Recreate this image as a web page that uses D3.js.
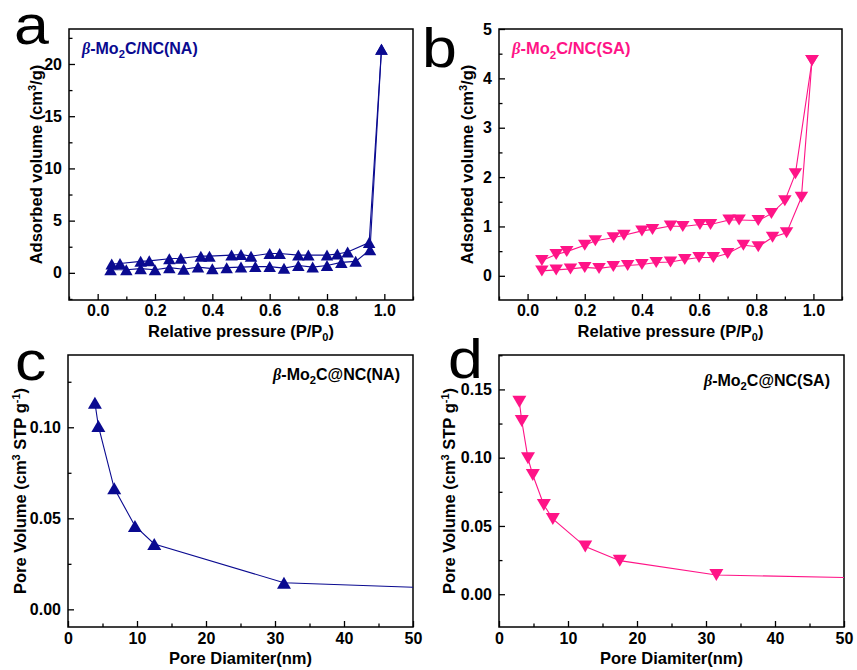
<!DOCTYPE html>
<html>
<head>
<meta charset="utf-8">
<script src="https://cdn.jsdelivr.net/npm/d3@7"></script>
<style>
  html, body { margin: 0; padding: 0; background: #fff; }
  svg { display: block; font-family: "Liberation Sans", Arial, sans-serif; }
</style>
</head>
<body>
<svg id="chart" width="857" height="670"></svg>
<script>
// ---------------- DATA ----------------
// Panel a: β-Mo2C/NC(NA) isotherm
const naAdsP = [0.045, 0.1, 0.15, 0.2, 0.25, 0.3, 0.35, 0.4, 0.45, 0.5, 0.55, 0.6, 0.65, 0.7, 0.75, 0.8, 0.85, 0.9, 0.95, 0.99];
const naAdsV = [0.3, 0.3, 0.4, 0.3, 0.5, 0.35, 0.55, 0.4, 0.5, 0.55, 0.6, 0.6, 0.45, 0.7, 0.55, 0.7, 1.0, 1.1, 2.2, 21.4];
const naDesP = [0.99, 0.947, 0.872, 0.836, 0.8, 0.735, 0.7, 0.635, 0.6, 0.535, 0.5, 0.467, 0.39, 0.36, 0.29, 0.25, 0.18, 0.15, 0.078, 0.049];
const naDesV = [21.4, 2.9, 2.0, 1.8, 1.7, 1.7, 1.7, 1.85, 1.85, 1.6, 1.75, 1.7, 1.6, 1.6, 1.4, 1.35, 1.15, 1.1, 0.9, 0.85];

// Panel b: β-Mo2C/NC(SA) isotherm
const saAdsP = [0.05, 0.1, 0.15, 0.2, 0.25, 0.3, 0.35, 0.4, 0.45, 0.5, 0.55, 0.6, 0.65, 0.7, 0.755, 0.807, 0.857, 0.906, 0.958, 0.995];
const saAdsV = [0.1, 0.12, 0.14, 0.17, 0.15, 0.19, 0.21, 0.23, 0.27, 0.28, 0.33, 0.37, 0.37, 0.45, 0.62, 0.59, 0.78, 0.87, 1.59, 4.36];
const saDesP = [0.995, 0.937, 0.9, 0.853, 0.807, 0.74, 0.705, 0.64, 0.603, 0.543, 0.5, 0.437, 0.4, 0.337, 0.3, 0.237, 0.2, 0.137, 0.1, 0.05];
const saDesV = [4.36, 2.07, 1.52, 1.26, 1.12, 1.13, 1.13, 1.04, 1.04, 1.0, 1.01, 0.94, 0.91, 0.82, 0.77, 0.71, 0.62, 0.49, 0.43, 0.31];

// Panel c: β-Mo2C@NC(NA) pore size distribution
const naPoreD = [3.9, 4.4, 6.7, 9.7, 12.5, 31.3, 50];
const naPoreV = [0.1135, 0.1007, 0.0665, 0.0458, 0.0359, 0.0146, 0.0121];

// Panel d: β-Mo2C@NC(SA) pore size distribution
const saPoreD = [2.95, 3.3, 4.2, 4.9, 6.5, 7.8, 12.5, 17.5, 31.5, 50];
const saPoreV = [0.141, 0.1269, 0.0995, 0.0873, 0.0654, 0.0551, 0.0349, 0.0246, 0.0141, 0.0122];

// Ticks
const isoXMajor = [0.0, 0.2, 0.4, 0.6, 0.8, 1.0];
const isoXMinor = [-0.1, 0.1, 0.3, 0.5, 0.7, 0.9, 1.1];
const aYMajor = [0, 5, 10, 15, 20];
const aYMinor = [-2.5, 2.5, 7.5, 12.5, 17.5, 22.5];
const bYMajor = [0, 1, 2, 3, 4, 5];
const bYMinor = [-0.5, 0.5, 1.5, 2.5, 3.5, 4.5];
const poreXMajor = [0, 10, 20, 30, 40, 50];
const poreXMinor = [5, 15, 25, 35, 45];
const cYMajor = [0.0, 0.05, 0.10];
const cYMinor = [0.025, 0.075, 0.125];
const dYMajor = [0.0, 0.05, 0.10, 0.15];
const dYMinor = [-0.025, 0.025, 0.075, 0.125, 0.175];

const NAVY = "#0a0a90";
const PINK = "#ff1487";

// ---------------- DRAW ----------------
const svg = d3.select("#chart");

function triPath(w, h, down) {
  const s = down ? -1 : 1;
  return `M0,${-s*h/2}L${w/2},${s*h/2}L${-w/2},${s*h/2}Z`;
}

function panel(cfg) {
  const x = d3.scaleLinear().domain(cfg.xDomain).range([cfg.left, cfg.right]);
  const y = d3.scaleLinear().domain(cfg.yDomain).range([cfg.bottom, cfg.top]);
  const g = svg.append("g");

  const clipId = "clip" + cfg.id;
  svg.append("clipPath").attr("id", clipId).append("rect")
    .attr("x", cfg.left).attr("y", cfg.top)
    .attr("width", cfg.right - cfg.left).attr("height", cfg.bottom - cfg.top);

  // axes (inward ticks)
  const xMaj = d3.axisBottom(x).tickValues(cfg.xMajor).tickSize(-6).tickPadding(cfg.xPad).tickFormat(cfg.xFmt);
  const xMin = d3.axisBottom(x).tickValues(cfg.xMinor).tickSize(-3.5).tickFormat("");
  const yMaj = d3.axisLeft(y).tickValues(cfg.yMajor).tickSize(-6).tickPadding(7).tickFormat(cfg.yFmt);
  const yMin = d3.axisLeft(y).tickValues(cfg.yMinor.filter(v => v > cfg.yDomain[0] && v < cfg.yDomain[1])).tickSize(-3.5).tickFormat("");

  [xMaj, xMin].forEach(ax => {
    g.append("g").attr("transform", `translate(0,${cfg.bottom})`).call(ax)
      .call(s => s.select(".domain").remove());
  });
  [yMaj, yMin].forEach(ax => {
    g.append("g").attr("transform", `translate(${cfg.left},0)`).call(ax)
      .call(s => s.select(".domain").remove());
  });
  g.selectAll(".tick line").attr("stroke", "#000").attr("stroke-width", 1.3);
  g.selectAll(".tick text").attr("fill", "#000").attr("font-size", "16px")
    .attr("font-weight", "bold").attr("font-family", "Liberation Sans, Arial, sans-serif");

  // frame
  g.append("rect").attr("x", cfg.left).attr("y", cfg.top)
    .attr("width", cfg.right - cfg.left).attr("height", cfg.bottom - cfg.top)
    .attr("fill", "none").attr("stroke", "#000").attr("stroke-width", 1.5);

  // series
  const line = d3.line().x(d => x(d[0])).y(d => y(d[1]));
  const plot = g.append("g").attr("clip-path", `url(#${clipId})`);
  cfg.series.forEach(sr => {
    const pts = sr.xs.map((v, i) => [v, sr.ys[i]]);
    plot.append("path").datum(pts).attr("d", line)
      .attr("fill", "none").attr("stroke", cfg.color).attr("stroke-width", 1.1);
  });
  cfg.series.forEach(sr => {
    const pts = sr.xs.map((v, i) => [v, sr.ys[i]]).filter(p => p[0] < cfg.xDomain[1]);
    plot.selectAll(null).data(pts).enter().append("path")
      .attr("transform", d => `translate(${x(d[0])},${y(d[1])})`)
      .attr("d", triPath(cfg.mw, cfg.mh, cfg.down))
      .attr("fill", cfg.color);
  });

  // sample label
  const fs = cfg.labelSize;
  const t = g.append("text").attr("x", cfg.labelX).attr("y", cfg.labelY)
    .attr("font-size", fs + "px").attr("font-weight", "bold").attr("fill", cfg.labelColor)
    .attr("text-anchor", cfg.labelAnchor);
  t.append("tspan").attr("font-style", "italic").attr("font-family", "Liberation Serif, serif").text("β");
  t.append("tspan").text("-Mo");
  t.append("tspan").attr("font-size", (fs * 0.7) + "px").attr("dy", fs * 0.28).text("2");
  t.append("tspan").attr("dy", -fs * 0.28).text(cfg.labelRest);

  // panel letter
  svg.append("text").attr("transform", `translate(${cfg.letterX},${cfg.letterY}) scale(1.12,1)`)
    .attr("font-size", "56px").attr("fill", "#000").text(cfg.letter);

  // y title
  const yt = svg.append("text")
    .attr("transform", `translate(${cfg.yTitleX},${(cfg.top + cfg.bottom) / 2}) rotate(-90)`)
    .attr("text-anchor", "middle").attr("font-size", "16.5px").attr("font-weight", "bold");
  cfg.yTitle(yt);

  // x title
  const xt = svg.append("text").attr("x", (cfg.left + cfg.right) / 2).attr("y", cfg.xTitleY)
    .attr("text-anchor", "middle").attr("font-size", "16.5px").attr("font-weight", "bold");
  cfg.xTitle(xt);
}

const isoYTitle = t => {
  t.append("tspan").text("Adsorbed volume (cm");
  t.append("tspan").attr("font-size", "11px").attr("dy", -6).text("3");
  t.append("tspan").attr("dy", 6).text("/g)");
};
const isoXTitle = t => {
  t.append("tspan").text("Relative pressure (P/P");
  t.append("tspan").attr("font-size", "11px").attr("dy", 4).text("0");
  t.append("tspan").attr("dy", -4).text(")");
};
const poreYTitle = t => {
  t.append("tspan").text("Pore Volume (cm");
  t.append("tspan").attr("font-size", "11px").attr("dy", -6).text("3");
  t.append("tspan").attr("dy", 6).text(" STP g");
  t.append("tspan").attr("font-size", "11px").attr("dy", -6).text("-1");
  t.append("tspan").attr("dy", 6).text(")");
};
const poreXTitle = t => { t.text("Pore Diamiter(nm)"); };

panel({
  id: "a", left: 69, right: 413, top: 29, bottom: 300,
  xDomain: [-0.1, 1.1], yDomain: [-2.6, 23.35], xPad: 5,
  xMajor: isoXMajor, xMinor: isoXMinor, yMajor: aYMajor, yMinor: aYMinor,
  xFmt: d3.format(".1f"), yFmt: d3.format("d"),
  color: NAVY, mw: 12.5, mh: 11, down: false,
  series: [{ xs: naAdsP, ys: naAdsV }, { xs: naDesP, ys: naDesV }],
  labelX: 82, labelY: 54, labelSize: 16, labelAnchor: "start", labelColor: NAVY, labelRest: "C/NC(NA)",
  letter: "a", letterX: 14, letterY: 44,
  yTitleX: 42, yTitle: isoYTitle, xTitleY: 337, xTitle: isoXTitle
});

panel({
  id: "b", left: 499, right: 842, top: 29, bottom: 300,
  xDomain: [-0.1, 1.1], yDomain: [-0.49, 5.0], xPad: 5,
  xMajor: isoXMajor, xMinor: isoXMinor, yMajor: bYMajor, yMinor: bYMinor,
  xFmt: d3.format(".1f"), yFmt: d3.format("d"),
  color: PINK, mw: 13.5, mh: 11, down: true,
  series: [{ xs: saAdsP, ys: saAdsV }, { xs: saDesP, ys: saDesV }],
  labelX: 512, labelY: 54, labelSize: 16.5, labelAnchor: "start", labelColor: PINK, labelRest: "C/NC(SA)",
  letter: "b", letterX: 422, letterY: 67,
  yTitleX: 473, yTitle: isoYTitle, xTitleY: 337, xTitle: isoXTitle
});

panel({
  id: "c", left: 68, right: 413, top: 355, bottom: 627,
  xDomain: [0, 50], yDomain: [-0.0097, 0.1397], xPad: 6,
  xMajor: poreXMajor, xMinor: poreXMinor, yMajor: cYMajor, yMinor: cYMinor,
  xFmt: d3.format("d"), yFmt: d3.format(".2f"),
  color: NAVY, mw: 14, mh: 12, down: false,
  series: [{ xs: naPoreD, ys: naPoreV }],
  labelX: 400, labelY: 380, labelSize: 16, labelAnchor: "end", labelColor: "#000", labelRest: "C@NC(NA)",
  letter: "c", letterX: 15, letterY: 380,
  yTitleX: 26, yTitle: poreYTitle, xTitleY: 664, xTitle: poreXTitle
});

panel({
  id: "d", left: 499, right: 844, top: 355, bottom: 627,
  xDomain: [0, 50], yDomain: [-0.024, 0.1752], xPad: 6,
  xMajor: poreXMajor, xMinor: poreXMinor, yMajor: dYMajor, yMinor: dYMinor,
  xFmt: d3.format("d"), yFmt: d3.format(".2f"),
  color: PINK, mw: 14, mh: 12, down: true,
  series: [{ xs: saPoreD, ys: saPoreV }],
  labelX: 830, labelY: 386, labelSize: 16, labelAnchor: "end", labelColor: "#000", labelRest: "C@NC(SA)",
  letter: "d", letterX: 448, letterY: 378,
  yTitleX: 455, yTitle: poreYTitle, xTitleY: 664, xTitle: poreXTitle
});
</script>
</body>
</html>
